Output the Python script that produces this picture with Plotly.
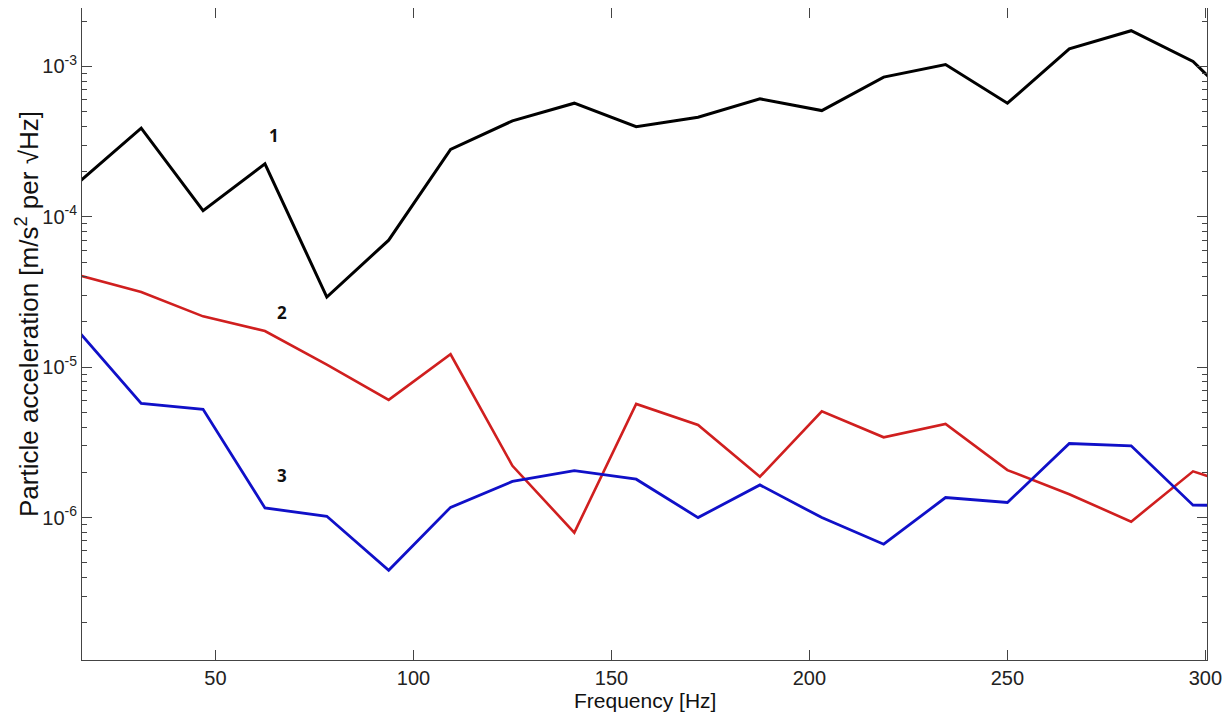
import math
import plotly.graph_objects as go

freq = [15.625 * k for k in range(1, 21)]

curve1 = [1.71e-4, 3.89e-4, 1.10e-4, 2.25e-4, 2.93e-5, 7.0e-5, 2.81e-4, 4.35e-4, 5.70e-4, 3.98e-4,
          4.6e-4, 6.09e-4, 5.09e-4, 8.5e-4, 1.03e-3, 5.70e-4, 1.31e-3, 1.73e-3, 1.08e-3, 4.3e-4]
curve2 = [4.08e-5, 3.16e-5, 2.18e-5, 1.74e-5, 1.04e-5, 6.07e-6, 1.22e-5, 2.21e-6, 7.94e-7, 5.7e-6,
          4.13e-6, 1.87e-6, 5.09e-6, 3.42e-6, 4.2e-6, 2.07e-6, 1.43e-6, 9.4e-7, 2.03e-6, 1.5e-6]
curve3 = [1.71e-5, 5.75e-6, 5.25e-6, 1.16e-6, 1.02e-6, 4.46e-7, 1.17e-6, 1.74e-6, 2.05e-6, 1.8e-6,
          1.0e-6, 1.65e-6, 1.0e-6, 6.65e-7, 1.36e-6, 1.26e-6, 3.11e-6, 3.0e-6, 1.21e-6, 1.2e-6]

x_ticks = [50, 100, 150, 200, 250, 300]
y_ticks = [1e-6, 1e-5, 1e-4, 1e-3]
y_ticktext = ["10<sup>-6</sup>", "10<sup>-5</sup>", "10<sup>-4</sup>", "10<sup>-3</sup>"]
curve_labels = ["1", "2", "3"]
label_x = [64.7, 66.8, 66.8]
label_y = [10 ** -3.462, 10 ** -4.633, 10 ** -5.722]

# page offset (default body margin in the browser)
OFF = 8
W, H = 1232, 713
L, R, T, B = 81.7, 1207.3, 8.4, 660.3

fig = go.Figure()
fig.add_trace(go.Scatter(x=freq, y=curve1, mode="lines", line=dict(color="#000000", width=3), showlegend=False))
fig.add_trace(go.Scatter(x=freq, y=curve2, mode="lines", line=dict(color="#d01f1f", width=2.6), showlegend=False))
fig.add_trace(go.Scatter(x=freq, y=curve3, mode="lines", line=dict(color="#1010c8", width=2.8), showlegend=False))

for t, xv, yv in zip(curve_labels, label_x, label_y):
    fig.add_annotation(x=xv, y=math.log10(yv), xref="x", yref="y", text="<b>%s</b>" % t,
                       showarrow=False, font=dict(family="Open Sans", size=17, color="#111111"))

pw = R - L
ph = B - T
fig.add_annotation(xref="paper", yref="paper", x=0.5, y=-(700.5 - B) / ph, text="Frequency [Hz]",
                   showarrow=False, xanchor="center", yanchor="middle",
                   font=dict(family="Liberation Sans, Arial", size=21, color="#111111"))
fig.add_annotation(xref="paper", yref="paper", x=(27 - L) / pw, y=(B - 314) / ph,
                   text="Particle acceleration [m/s<sup>2</sup> per √Hz]", textangle=-90,
                   showarrow=False, xanchor="center", yanchor="middle",
                   font=dict(family="Liberation Sans, Arial", size=26, color="#111111"))

fig.update_layout(
    width=W, height=H,
    margin=dict(l=L - OFF, r=W + OFF - R, t=T - OFF, b=H + OFF - B, pad=0, autoexpand=False),
    paper_bgcolor="white", plot_bgcolor="white",
    font=dict(family="Liberation Sans, Arial", size=20, color="#222222"),
    xaxis=dict(range=[16.3, 300.4], tickvals=x_ticks, ticks="inside", ticklen=10, tickcolor="#444444",
               showline=True, linecolor="#444444", linewidth=1, mirror="allticks", showgrid=False,
               zeroline=False, tickfont=dict(size=20), automargin=False),
    yaxis=dict(type="log", range=[-6.947, -2.611], tickvals=y_ticks, ticktext=y_ticktext,
               ticks="inside", ticklen=10, tickcolor="#444444",
               showline=True, linecolor="#444444", linewidth=1, mirror="allticks", showgrid=False,
               zeroline=False, tickfont=dict(size=20), automargin=False,
               minor=dict(ticks="inside", ticklen=5, tickcolor="#444444", dtick="D1", showgrid=False)),
)

fig.write_html("out.html")
